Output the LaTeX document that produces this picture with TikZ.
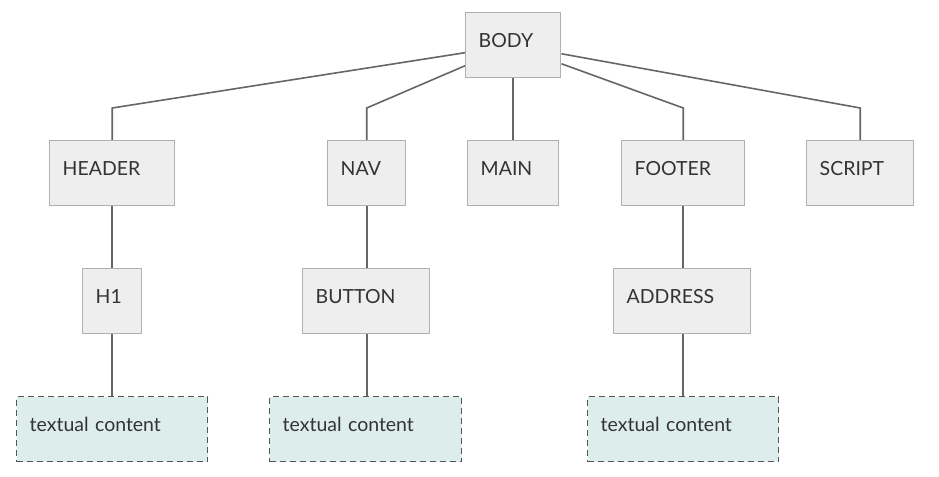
\documentclass[tikz,border=0pt]{standalone}
\usepackage{fontspec}
\setmainfont{Lato}
\definecolor{boxfill}{HTML}{EEEEEE}
\definecolor{boxline}{HTML}{B0B0B0}
\definecolor{txtfill}{HTML}{DDEDEC}
\definecolor{dashline}{HTML}{555555}
\definecolor{conn}{HTML}{666666}
\definecolor{txt}{HTML}{333333}
\tikzset{
  base/.style={anchor=north west, minimum height=48.75pt, inner xsep=9.75pt, inner ysep=0pt,
    align=left, text height=8pt, text depth=5pt, font=\fontsize{14.6pt}{16pt}\selectfont, text=txt},
  tagbox/.style={base, draw=boxline, fill=boxfill, line width=1.1pt},
  contentbox/.style={base, draw=dashline, fill=txtfill, line width=1.1pt, dash pattern=on 4.5pt off 3pt},
  link/.style={draw=conn, line width=1.2pt}
}
\begin{document}
\begin{tikzpicture}[x=0.75pt, y=-0.75pt]
\useasboundingbox (0,0) rectangle (939,477);
\node[tagbox, text width=51.75pt] (body) at (465,12) {BODY};
\node[tagbox, text width=74.25pt] (header) at (49,140) {HEADER};
\node[tagbox, text width=39pt] (nav) at (327,140) {NAV};
\node[tagbox, text width=48.75pt] (main) at (467,140) {MAIN};
\node[tagbox, text width=72.75pt] (footer) at (621,140) {FOOTER};
\node[tagbox, text width=60.75pt] (script) at (806,140) {SCRIPT};
\node[tagbox, text width=24.75pt] (h1) at (82,268) {H1};
\node[tagbox, text width=75.75pt] (button) at (302,268) {BUTTON};
\node[tagbox, text width=83.25pt] (address) at (613,268) {ADDRESS};
\node[contentbox, text width=123.75pt] (t1) at (16,396) {textual content};
\node[contentbox, text width=124.5pt] (t2) at (269,396) {textual content};
\node[contentbox, text width=123.75pt] (t3) at (587,396) {textual content};
\draw[link] ([yshift=-5.6pt]body.west) -- ([yshift=24pt]header.north) -- (header.north);
\draw[link] ([yshift=-15.4pt]body.west) -- ([yshift=24pt]nav.north) -- (nav.north);
\draw[link] (body.south) -- (main.north);
\draw[link] ([yshift=-13.9pt]body.east) -- ([yshift=24pt]footer.north) -- (footer.north);
\draw[link] ([yshift=-6.4pt]body.east) -- ([yshift=24pt]script.north) -- (script.north);
\draw[link] (header.south) -- (header.south |- h1.north);
\draw[link] (h1.south -| header.south) -- (header.south |- t1.north);
\draw[link] (nav.south) -- (nav.south |- button.north);
\draw[link] (button.south -| nav.south) -- (nav.south |- t2.north);
\draw[link] (footer.south) -- (footer.south |- address.north);
\draw[link] (address.south -| footer.south) -- (footer.south |- t3.north);
\end{tikzpicture}
\end{document}
